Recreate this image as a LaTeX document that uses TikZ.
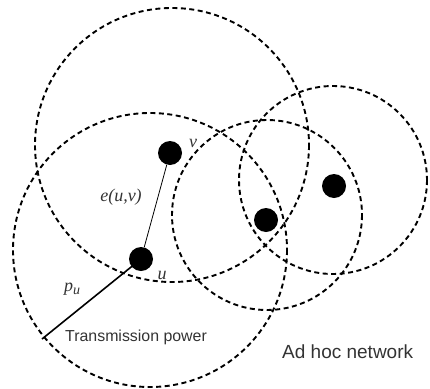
\documentclass[tikz,border=0pt]{standalone}
\usepackage{fontspec}
\setmainfont{Liberation Serif}
\setsansfont{Liberation Sans}
\begin{document}
\begin{tikzpicture}[x=1pt,y=-1pt,
  radiorange/.style={draw=black, line width=1.9pt, dash pattern=on 5pt off 3.5pt},
  host/.style={circle, fill=black, inner sep=0pt, minimum size=24pt},
  mathlbl/.style={font=\fontsize{18}{20}\selectfont\itshape, text=black!80, inner sep=0pt},
  caption/.style={font=\sffamily, text=black!80, inner sep=0pt, anchor=base west}]
\useasboundingbox (0,0) rectangle (430,388);

% transmission ranges
\draw[radiorange] (172,145) circle (137);
\draw[radiorange] (150,250) circle (137);
\draw[radiorange] (267,215) circle (95);
\draw[radiorange] (333,180) circle (94);

% hosts
\node[host] (v) at (170,153) {};
\node[host] (u) at (141,259) {};
\node[host] (w) at (266,220) {};
\node[host] (x) at (334,186) {};
\coordinate (rim) at (42,339);

% links
\draw[line width=0.8pt] (u) -- (v);
\draw[line width=1.6pt] (u.center) -- (rim);

% labels
\node[mathlbl] (lv) at (193,143) {v};
\node[mathlbl] (le) at (121,197) {e(u,v)};
\node[mathlbl] (lu) at (162,275) {u};
\node[mathlbl] (lp) at (72,289) {p\raisebox{-3pt}{\fontsize{14}{16}\selectfont u}};
\node[caption, font=\sffamily\fontsize{15.9}{18}\selectfont] (tp) at (65,341) {Transmission power};
\node[caption, font=\sffamily\fontsize{19}{22}\selectfont] (ah) at (282,358) {Ad hoc network};
\end{tikzpicture}
\end{document}
